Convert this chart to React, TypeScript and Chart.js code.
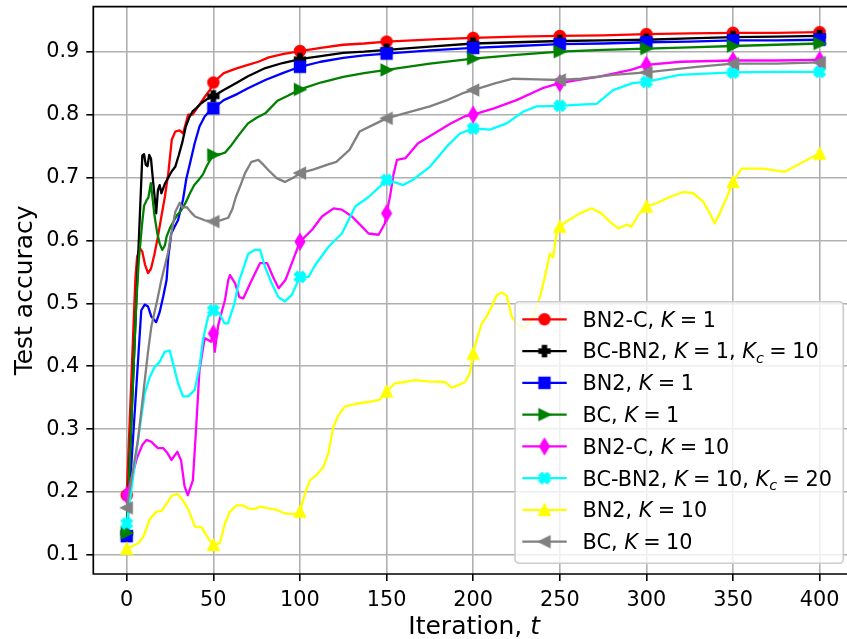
import React, { useEffect, useRef } from "react";
import { Chart, registerables } from "chart.js";

Chart.register(...registerables);

const FONT = "'DejaVu Sans'";

// ---- axes ----
const xTicks = [0, 50, 100, 150, 200, 250, 300, 350, 400];
const yTicks = [0.1, 0.2, 0.3, 0.4, 0.5, 0.6, 0.7, 0.8, 0.9];
const xMin = -19.3;
const xMax = 415.8;
const yMin = 0.0698;
const yMax = 0.9715;
const xTitle = "Iteration, $t$";
const yTitle = "Test accuracy";

// ---- series (iteration, accuracy) ----
const tRed = [0, 5, 6, 7.5, 9, 10.5, 12.3, 14, 16, 18, 20, 22, 24, 26, 28, 30.5, 32.5, 34, 35.5, 38, 41, 45, 48, 50, 56, 63, 70, 76, 82, 90, 100, 112, 125, 137, 150, 165, 180, 200, 225, 250, 275, 300, 325, 350, 375, 400];
const vRed = [0.195, 0.54, 0.574, 0.588, 0.582, 0.562, 0.548, 0.555, 0.578, 0.606, 0.638, 0.669, 0.707, 0.76, 0.773, 0.775, 0.77, 0.785, 0.8, 0.8, 0.812, 0.828, 0.839, 0.851, 0.866, 0.873, 0.879, 0.884, 0.891, 0.896, 0.901, 0.906, 0.911, 0.913, 0.916, 0.918, 0.92, 0.922, 0.924, 0.925, 0.926, 0.928, 0.929, 0.93, 0.93, 0.931];

const tBlack = [0, 9, 10, 11, 12, 13, 14, 15, 16, 17, 18, 19, 20, 22, 24, 26, 28, 30, 32, 34, 36, 38, 40, 43, 46, 50, 56, 63, 70, 80, 90, 100, 112, 125, 137, 150, 175, 200, 225, 250, 275, 300, 325, 350, 375, 400];
const vBlack = [0.135, 0.735, 0.737, 0.72, 0.718, 0.736, 0.73, 0.7, 0.672, 0.643, 0.68, 0.688, 0.675, 0.69, 0.7, 0.71, 0.717, 0.735, 0.755, 0.78, 0.795, 0.805, 0.81, 0.818, 0.824, 0.829, 0.839, 0.85, 0.861, 0.874, 0.882, 0.888, 0.893, 0.898, 0.9, 0.903, 0.908, 0.913, 0.915, 0.917, 0.918, 0.919, 0.921, 0.923, 0.924, 0.925];

const tBlue = [0, 8.4, 10.4, 12.3, 14.2, 17, 19, 21, 23, 24, 25.7, 27.7, 29.6, 32.5, 34.4, 36.3, 39.2, 42, 45, 48, 50, 56, 64, 70, 80, 90, 100, 112, 125, 137, 150, 175, 200, 225, 250, 275, 300, 325, 350, 375, 400];
const vBlue = [0.13, 0.489, 0.498, 0.495, 0.479, 0.47, 0.486, 0.51, 0.537, 0.574, 0.611, 0.622, 0.632, 0.665, 0.698, 0.72, 0.754, 0.781, 0.797, 0.806, 0.81, 0.823, 0.833, 0.842, 0.855, 0.866, 0.876, 0.884, 0.89, 0.894, 0.897, 0.902, 0.906, 0.909, 0.912, 0.913, 0.915, 0.916, 0.918, 0.918, 0.919];

const tGreen = [0, 5.5, 7, 8, 9, 10, 11.5, 12.5, 13.9, 15, 16, 17.6, 19, 20.5, 22, 23, 25, 27, 29, 31.5, 34, 36.5, 39, 41.5, 44, 46, 48, 50, 54, 57, 60, 64, 70, 75, 80, 87, 93, 100, 112, 125, 137, 150, 175, 200, 225, 250, 275, 300, 325, 350, 375, 400];
const vGreen = [0.135, 0.5, 0.57, 0.6, 0.63, 0.655, 0.664, 0.668, 0.691, 0.665, 0.64, 0.612, 0.595, 0.585, 0.592, 0.606, 0.62, 0.63, 0.64, 0.648, 0.66, 0.675, 0.688, 0.696, 0.705, 0.717, 0.727, 0.736, 0.737, 0.74, 0.75, 0.765, 0.786, 0.795, 0.802, 0.822, 0.83, 0.84, 0.851, 0.86, 0.866, 0.871, 0.881, 0.889, 0.895, 0.9, 0.903, 0.905, 0.907, 0.909, 0.911, 0.913];

const tMagenta = [0, 3, 6, 9, 11.4, 14.2, 16, 18, 21, 23.5, 25.8, 29.2, 31.4, 33.4, 35.3, 38.2, 40, 42, 45, 48.7, 50, 50.8, 52.8, 54.7, 56.7, 58.6, 59.6, 62.5, 65, 67.3, 72.2, 77, 81, 84.8, 87.7, 91.6, 97.4, 100, 107, 112.7, 119.4, 124.2, 130, 135.8, 139.6, 145.4, 149, 150, 152, 154, 156, 161, 168, 177.5, 187, 195, 200, 212, 225, 240, 250, 260, 272, 291, 300, 320, 350, 375, 400];
const vMagenta = [0.195, 0.225, 0.255, 0.275, 0.283, 0.28, 0.275, 0.27, 0.27, 0.262, 0.251, 0.264, 0.25, 0.209, 0.195, 0.219, 0.299, 0.394, 0.445, 0.439, 0.452, 0.423, 0.465, 0.485, 0.505, 0.537, 0.545, 0.532, 0.51, 0.508, 0.537, 0.564, 0.564, 0.54, 0.524, 0.537, 0.579, 0.598, 0.617, 0.638, 0.651, 0.649, 0.638, 0.622, 0.611, 0.609, 0.627, 0.643, 0.67, 0.705, 0.728, 0.731, 0.754, 0.77, 0.786, 0.797, 0.8, 0.81, 0.823, 0.842, 0.85, 0.855, 0.86, 0.871, 0.879, 0.884, 0.886, 0.886, 0.887];

const tCyan = [0, 3, 6.5, 10.4, 13.3, 16.2, 19, 21.9, 24.8, 26.7, 29.6, 32.5, 35.4, 39.2, 42, 44, 47, 50, 53.5, 56.5, 58.4, 62.2, 65, 66.4, 70.2, 74, 77, 79.8, 83.7, 87.5, 91.3, 95.2, 100, 104.9, 108.8, 116.5, 124.2, 131.9, 139.6, 147, 150, 154, 159.6, 165, 175, 184.7, 192.4, 200, 209.7, 219.3, 229, 236.6, 250, 261.6, 271.2, 280.8, 292, 300, 319, 350, 375, 400];
const vCyan = [0.15, 0.21, 0.283, 0.357, 0.383, 0.399, 0.407, 0.423, 0.425, 0.405, 0.373, 0.352, 0.352, 0.362, 0.399, 0.442, 0.479, 0.489, 0.484, 0.468, 0.468, 0.5, 0.537, 0.548, 0.579, 0.585, 0.585, 0.558, 0.532, 0.51, 0.503, 0.513, 0.542, 0.542, 0.561, 0.59, 0.611, 0.654, 0.669, 0.688, 0.696, 0.693, 0.688, 0.696, 0.717, 0.749, 0.77, 0.778, 0.776, 0.786, 0.805, 0.813, 0.814, 0.816, 0.817, 0.839, 0.85, 0.852, 0.863, 0.867, 0.868, 0.868];

const tYellow = [0, 4, 6.7, 9.6, 13.5, 17.3, 20.2, 23, 25.9, 28.9, 31.7, 35.6, 39.4, 43.3, 47.1, 50, 53.8, 56.7, 59.6, 63.5, 67.3, 70.2, 74, 76.9, 81.7, 86.5, 91.3, 97.1, 100, 102.9, 105.8, 109.6, 113.5, 116.4, 119.3, 122.2, 126, 131.8, 141.4, 146.2, 150, 154.9, 160.7, 166.4, 174, 183.7, 187.6, 191.4, 195.3, 198.1, 200, 202, 204.9, 207.8, 210.7, 213.6, 216.5, 219.4, 222.2, 226, 230, 234, 238.5, 241.4, 244.3, 246.2, 248.1, 250, 253.9, 261.6, 268.3, 274, 278.9, 283.7, 288.5, 291.4, 295.2, 300, 305.8, 313.5, 321.2, 327, 332.7, 336.6, 339.4, 342.3, 346.2, 350, 354.9, 367.4, 379.9, 388.5, 396.2, 400];
const vYellow = [0.11, 0.115, 0.119, 0.129, 0.158, 0.169, 0.17, 0.182, 0.194, 0.197, 0.19, 0.172, 0.145, 0.144, 0.126, 0.116, 0.119, 0.15, 0.169, 0.179, 0.179, 0.174, 0.173, 0.177, 0.174, 0.172, 0.166, 0.165, 0.169, 0.198, 0.219, 0.227, 0.24, 0.262, 0.304, 0.322, 0.336, 0.34, 0.344, 0.347, 0.36, 0.373, 0.375, 0.378, 0.376, 0.375, 0.366, 0.37, 0.375, 0.389, 0.42, 0.442, 0.468, 0.479, 0.495, 0.513, 0.517, 0.512, 0.479, 0.465, 0.46, 0.475, 0.51, 0.542, 0.579, 0.573, 0.611, 0.622, 0.63, 0.643, 0.651, 0.643, 0.63, 0.619, 0.625, 0.622, 0.64, 0.654, 0.659, 0.669, 0.677, 0.675, 0.662, 0.643, 0.627, 0.643, 0.667, 0.693, 0.714, 0.714, 0.709, 0.722, 0.733, 0.738];

const tGray = [0, 6.5, 12.2, 14.2, 17.6, 20, 23.8, 26, 28, 30.6, 32, 34.6, 37, 39.4, 45, 50, 54, 58.6, 61, 63, 66, 68.3, 72, 76, 79, 81.7, 86.5, 91.3, 97, 100, 108, 115.5, 121, 128.6, 134.4, 144, 150, 157.7, 175, 185, 194, 200, 213, 223, 237, 250, 262, 281, 300, 329, 350, 375, 400];
const vGray = [0.175, 0.283, 0.421, 0.463, 0.505, 0.537, 0.58, 0.615, 0.645, 0.66, 0.652, 0.653, 0.645, 0.638, 0.632, 0.63, 0.632, 0.636, 0.65, 0.669, 0.69, 0.707, 0.725, 0.728, 0.72, 0.712, 0.699, 0.693, 0.701, 0.707, 0.713, 0.72, 0.725, 0.744, 0.773, 0.786, 0.794, 0.8, 0.813, 0.823, 0.834, 0.839, 0.85, 0.857, 0.856, 0.855, 0.857, 0.863, 0.867, 0.876, 0.881, 0.881, 0.883];

const seriesLabels = [
  "BN2-C, $K=1$",
  "BC-BN2, $K=1$, $K_c=10$",
  "BN2, $K=1$",
  "BC, $K=1$",
  "BN2-C, $K=10$",
  "BC-BN2, $K=10$, $K_c=20$",
  "BN2, $K=10$",
  "BC, $K=10$",
];
const seriesColors = ["#ff0000", "#000000", "#0000ff", "#008000", "#ff00ff", "#00ffff", "#ffff00", "#808080"];
const seriesMarkers = ["o", "P", "s", ">", "d", "X", "^", "<"];
const seriesT = [tRed, tBlack, tBlue, tGreen, tMagenta, tCyan, tYellow, tGray];
const seriesV = [vRed, vBlack, vBlue, vGreen, vMagenta, vCyan, vYellow, vGray];
const markEvery = 50;

function makeMarker(shape: string, color: string): HTMLCanvasElement {
  const S = 26;
  const c = document.createElement("canvas");
  c.width = S;
  c.height = S;
  const g = c.getContext("2d") as CanvasRenderingContext2D;
  g.translate(S / 2, S / 2);
  const m = 10.4;
  const h = m / 2;
  let pts: number[][] | null = null;
  g.beginPath();
  if (shape === "o") g.arc(0, 0, h, 0, Math.PI * 2);
  else if (shape === "s") pts = [[-h, -h], [h, -h], [h, h], [-h, h]];
  else if (shape === "^") pts = [[0, -h], [h, h], [-h, h]];
  else if (shape === ">") pts = [[h, 0], [-h, h], [-h, -h]];
  else if (shape === "<") pts = [[-h, 0], [h, -h], [h, h]];
  else if (shape === "d") pts = [[0, -0.7071 * m], [0.4243 * m, 0], [0, 0.7071 * m], [-0.4243 * m, 0]];
  else if (shape === "P")
    pts = [[-1, -3], [-1, -1], [-3, -1], [-3, 1], [-1, 1], [-1, 3], [1, 3], [1, 1], [3, 1], [3, -1], [1, -1], [1, -3]].map(([x, y]) => [(x * m) / 6, (y * m) / 6]);
  else if (shape === "X")
    pts = [[-1, -2], [0, -1], [1, -2], [2, -1], [1, 0], [2, 1], [1, 2], [0, 1], [-1, 2], [-2, 1], [-1, 0], [-2, -1]].map(([x, y]) => [(x * m) / 4, (y * m) / 4]);
  if (pts) {
    pts.forEach(([x, y], i) => (i ? g.lineTo(x, y) : g.moveTo(x, y)));
    g.closePath();
  }
  g.fillStyle = color;
  g.fill();
  g.lineWidth = 2;
  g.lineJoin = "miter";
  g.strokeStyle = color;
  g.stroke();
  return c;
}

type Run = { t: string; font: string; dy: number; gb: number; ga: number; w: number };

function drawRich(ctx: CanvasRenderingContext2D, str: string, x: number, y: number, size: number, align: string) {
  const reg = `${size}px ${FONT}`;
  const ita = `italic ${size}px ${FONT}`;
  const runs: Run[] = [];
  str.split("$").forEach((p, i) => {
    if (i % 2 === 0) {
      if (p) runs.push({ t: p, font: reg, dy: 0, gb: 0, ga: 0, w: 0 });
    } else {
      for (let k = 0; k < p.length; k++) {
        const ch = p[k];
        if (ch === "_") {
          runs.push({ t: p[k + 1], font: `italic ${size * 0.7}px ${FONT}`, dy: size * 0.2, gb: 0, ga: 0, w: 0 });
          k++;
        } else if (/[A-Za-z]/.test(ch)) runs.push({ t: ch, font: ita, dy: 0, gb: 0, ga: 0, w: 0 });
        else if (ch === "=") runs.push({ t: "=", font: reg, dy: 0, gb: size * 0.26, ga: size * 0.26, w: 0 });
        else runs.push({ t: ch, font: reg, dy: 0, gb: 0, ga: 0, w: 0 });
      }
    }
  });
  let total = 0;
  runs.forEach((r) => {
    ctx.font = r.font;
    r.w = ctx.measureText(r.t).width;
    total += r.gb + r.w + r.ga;
  });
  let cx = align === "center" ? x - total / 2 : x;
  ctx.textAlign = "left";
  runs.forEach((r) => {
    ctx.font = r.font;
    cx += r.gb;
    ctx.fillText(r.t, cx, y + r.dy);
    cx += r.w + r.ga;
  });
}

export default function App() {
  const ref = useRef<HTMLCanvasElement>(null);

  useEffect(() => {
    const canvas = ref.current as HTMLCanvasElement;
    const markers = seriesMarkers.map((m, i) => makeMarker(m, seriesColors[i]));

    const datasets = seriesT.map((ts, i) => ({
      label: seriesLabels[i],
      data: ts.map((t, j) => ({ x: t, y: seriesV[i][j] })),
      borderColor: seriesColors[i],
      backgroundColor: seriesColors[i],
      borderWidth: 2.3,
      borderJoinStyle: "round" as const,
      tension: 0,
      fill: false,
      pointStyle: markers[i] as any,
      pointRadius: ts.map((t) => (t % markEvery === 0 ? 6 : 0)),
      pointHoverRadius: ts.map((t) => (t % markEvery === 0 ? 6 : 0)),
      pointHitRadius: 0,
      order: seriesT.length - i,
    }));

    const decor = {
      id: "decor",
      afterDatasetsDraw(chart: any) {
        const { ctx, chartArea: a } = chart;
        ctx.save();
        ctx.strokeStyle = "#000";
        ctx.lineWidth = 1.7;
        ctx.lineCap = "square";
        ctx.beginPath();
        ctx.moveTo(a.left, a.bottom);
        ctx.lineTo(a.left, a.top);
        ctx.lineTo(a.right + 3, a.top);
        ctx.moveTo(a.left, a.bottom);
        ctx.lineTo(a.right + 3, a.bottom);
        ctx.stroke();
        ctx.restore();
      },
      afterDraw(chart: any) {
        const { ctx, chartArea: a } = chart;
        const xs = chart.scales.x;
        ctx.save();
        ctx.fillStyle = "#000";
        ctx.textBaseline = "alphabetic";
        // axis titles
        drawRich(ctx, xTitle, xs.getPixelForValue(200) + 1, 634, 25, "center");
        ctx.save();
        ctx.translate(31.7, (a.top + a.bottom) / 2);
        ctx.rotate(-Math.PI / 2);
        ctx.font = `25px ${FONT}`;
        ctx.textAlign = "center";
        ctx.fillText(yTitle, 0, 0);
        ctx.restore();

        // legend
        const bx = 515, by = 301.7, bw = 328.3, bh = 261.6, r = 4.2;
        ctx.beginPath();
        ctx.moveTo(bx + r, by);
        ctx.arcTo(bx + bw, by, bx + bw, by + bh, r);
        ctx.arcTo(bx + bw, by + bh, bx, by + bh, r);
        ctx.arcTo(bx, by + bh, bx, by, r);
        ctx.arcTo(bx, by, bx + bw, by, r);
        ctx.closePath();
        ctx.fillStyle = "rgba(255,255,255,0.8)";
        ctx.fill();
        ctx.strokeStyle = "#cccccc";
        ctx.lineWidth = 1.6;
        ctx.stroke();

        seriesLabels.forEach((lab, i) => {
          const cy = 319.3 + i * 31.77;
          ctx.strokeStyle = seriesColors[i];
          ctx.lineWidth = 2.3;
          ctx.beginPath();
          ctx.moveTo(522.3, cy);
          ctx.lineTo(566.7, cy);
          ctx.stroke();
          const mk = markers[i];
          ctx.drawImage(mk, 544.5 - mk.width / 2, cy - mk.height / 2);
          ctx.fillStyle = "#000";
          drawRich(ctx, lab, 582.5, cy + 7.4, 20.8, "left");
        });
        ctx.restore();
      },
    };

    const chart = new Chart(canvas, {
      type: "line",
      data: { datasets: datasets as any },
      options: {
        animation: false,
        responsive: false,
        devicePixelRatio: 1,
        events: [],
        layout: { autoPadding: false, padding: { top: 6.7, left: 0, right: 0, bottom: 0 } },
        plugins: { legend: { display: false }, tooltip: { enabled: false } },
        scales: {
          x: {
            type: "linear",
            min: xMin,
            max: xMax,
            afterBuildTicks: (s: any) => {
              s.ticks = xTicks.map((v) => ({ value: v }));
            },
            afterFit: (s: any) => {
              s.height = 65;
              s.paddingLeft = 0;
              s.paddingRight = 0;
            },
            ticks: {
              autoSkip: false,
              maxRotation: 0,
              color: "#000",
              padding: 7,
              font: { family: "DejaVu Sans", size: 20.8 },
              callback: (v: any) => String(v),
            },
            grid: { color: "#b0b0b0", lineWidth: 1.6, tickColor: "#000", tickLength: 7, tickWidth: 1.6 },
            border: { display: false },
          },
          y: {
            type: "linear",
            min: yMin,
            max: yMax,
            afterBuildTicks: (s: any) => {
              s.ticks = yTicks.map((v) => ({ value: v }));
            },
            afterFit: (s: any) => {
              s.width = 93.3;
              s.paddingTop = 0;
              s.paddingBottom = 0;
            },
            ticks: {
              autoSkip: false,
              color: "#000",
              padding: 7,
              font: { family: "DejaVu Sans", size: 20.8 },
              callback: (v: any) => Number(v).toFixed(1),
            },
            grid: { color: "#b0b0b0", lineWidth: 1.6, tickColor: "#000", tickLength: 7, tickWidth: 1.6 },
            border: { display: false },
          },
        },
      },
      plugins: [decor],
    });
    return () => chart.destroy();
  }, []);

  return (
    <div style={{ position: "fixed", left: 0, top: 0, width: 847, height: 639, background: "#fff" }}>
      <canvas ref={ref} width={847} height={639} style={{ display: "block", width: 847, height: 639 }} />
    </div>
  );
}
